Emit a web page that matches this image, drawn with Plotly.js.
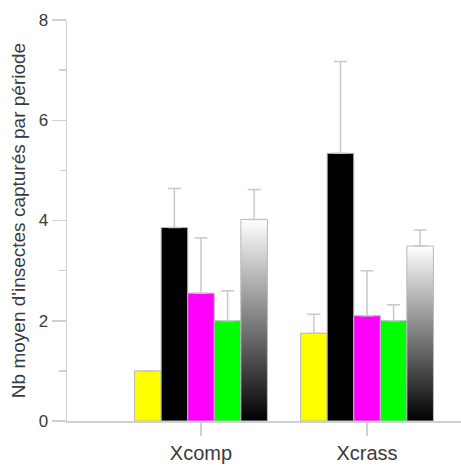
<!DOCTYPE html>
<html>
<head>
<meta charset="utf-8">
<script src="https://cdn.plot.ly/plotly-3.0.1.min.js"></script>
<style>
html,body{margin:0;padding:0;background:#fff;}
#chart{width:461px;height:466px;}
</style>
</head>
<body>
<div id="chart"></div>
<script>
const categories = ['Xcomp', 'Xcrass'];
const yellowVals = [1.0, 1.75];
const yellowErr = [null, 0.38];
const blackVals = [3.86, 5.34];
const blackErr = [0.78, 1.83];
const magentaVals = [2.55, 2.10];
const magentaErr = [1.1, 0.9];
const greenVals = [2.0, 2.0];
const greenErr = [0.6, 0.32];
const gradVals = [4.02, 3.49];
const gradErr = [0.6, 0.32];
const yTitle = "Nb moyen d'insectes capturés par période";

const errStyle = (arr) => ({
  type: 'data', array: arr, arrayminus: arr.map(() => 0), symmetric: false,
  visible: true, color: '#c8c8c8', thickness: 1.5, width: 6.5
});
const mk = (vals, err, color) => ({
  type: 'bar', x: categories, y: vals, error_y: errStyle(err),
  marker: {color: color, line: {color: '#b8b8b8', width: 1}},
  hoverinfo: 'skip'
});

const data = [
  mk(yellowVals, yellowErr, '#ffff00'),
  mk(blackVals, blackErr, '#000000'),
  mk(magentaVals, magentaErr, '#ff00ff'),
  mk(greenVals, greenErr, '#00ff00'),
  mk(gradVals, gradErr, '#808080')
];

const layout = {
  width: 461, height: 466,
  margin: {l: 67, r: 0, t: 20, b: 45},
  paper_bgcolor: '#fff', plot_bgcolor: '#fff',
  showlegend: false,
  barmode: 'group', bargap: 0.2, bargroupgap: 0,
  font: {family: 'Liberation Sans, Arial, sans-serif', color: '#3a3a3a'},
  xaxis: {
    range: [-0.807, 1.566], showgrid: false, zeroline: false,
    showline: true, linecolor: '#d0d0d0', linewidth: 1.5,
    ticks: 'outside', ticklen: 13, tickcolor: '#d0d0d0', tickwidth: 1.5,
    tickfont: {size: 20, color: '#3a3a3a'}
  },
  yaxis: {
    range: [0, 8], dtick: 2, showgrid: false, zeroline: false,
    showline: true, linecolor: '#d0d0d0', linewidth: 1.5,
    ticks: 'outside', ticklen: 14, tickcolor: '#d0d0d0', tickwidth: 1.5,
    tickfont: {size: 17, color: '#3a3a3a'},
    minor: {dtick: 1, ticks: 'outside', ticklen: 7, tickcolor: '#d0d0d0', tickwidth: 1.5, showgrid: false},
    title: {text: yTitle, font: {size: 19, color: '#3a3a3a'}, standoff: 8}
  }
};

Plotly.newPlot('chart', data, layout, {staticPlot: true}).then(function(gd) {
  const svg = gd.querySelector('.main-svg');
  let defs = svg.querySelector('defs');
  const ns = 'http://www.w3.org/2000/svg';
  if (!defs) { defs = document.createElementNS(ns, 'defs'); svg.insertBefore(defs, svg.firstChild); }
  const lg = document.createElementNS(ns, 'linearGradient');
  lg.setAttribute('id', 'barGrad');
  lg.setAttribute('x1', '0'); lg.setAttribute('y1', '0');
  lg.setAttribute('x2', '0'); lg.setAttribute('y2', '1');
  [['0', '#ffffff'], ['1', '#000000']].forEach(function(s) {
    const st = document.createElementNS(ns, 'stop');
    st.setAttribute('offset', s[0]);
    st.setAttribute('stop-color', s[1]);
    lg.appendChild(st);
  });
  defs.appendChild(lg);
  const traces = gd.querySelectorAll('.barlayer .trace');
  const last = traces[traces.length - 1];
  last.querySelectorAll('path').forEach(function(p) {
    p.style.fill = 'url(#barGrad)';
  });
});
</script>
</body>
</html>
